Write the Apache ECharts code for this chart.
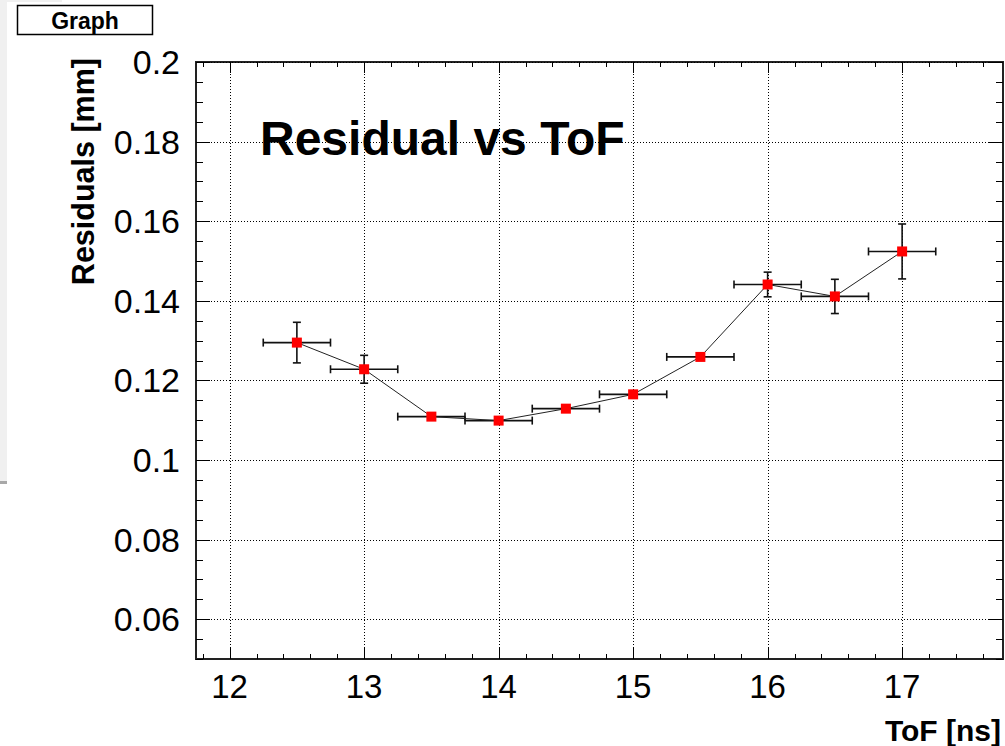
<!DOCTYPE html>
<html><head><meta charset="utf-8">
<script src="https://cdn.jsdelivr.net/npm/echarts@6/dist/echarts.min.js"></script>
<style>html,body{margin:0;padding:0;background:#fff}#c{width:1005px;height:746px}</style>
</head><body><div id="c"></div>
<script>
// ---- data ----
const tof        = [12.5, 13.0, 13.5, 14.0, 14.5, 15.0, 15.5, 16.0, 16.5, 17.0];
const residual   = [0.1295, 0.1228, 0.1109, 0.1099, 0.1129, 0.1165, 0.1259, 0.1441, 0.1411, 0.1524];
const tofErr     = [0.25, 0.25, 0.25, 0.25, 0.25, 0.25, 0.25, 0.25, 0.25, 0.25];
const residualErr= [0.0051, 0.0035, 0.0008, 0.0008, 0.0008, 0.0008, 0.0008, 0.0031, 0.0043, 0.0069];
const xMajor = [12, 13, 14, 15, 16, 17];
const yMajor = [0.06, 0.08, 0.1, 0.12, 0.14, 0.16, 0.18, 0.2];
const xMinorStep = 0.2, yMinorStep = 0.005;
const X_MIN = 11.75, X_MAX = 17.75, Y_MIN = 0.05, Y_MAX = 0.2;

function steps(lo, hi, step){
  const out = [];
  const n0 = Math.ceil(lo/step - 1e-9), n1 = Math.floor(hi/step + 1e-9);
  for (let k = n0; k <= n1; k++) out.push(+(k*step).toFixed(6));
  return out;
}
const isMajor = (arr, v) => arr.some(m => Math.abs(m - v) < 1e-9);
const xMinor = steps(X_MIN, X_MAX, xMinorStep).filter(v => !isMajor(xMajor, v));
const yMinor = steps(Y_MIN, Y_MAX, yMinorStep).filter(v => !isMajor(yMajor, v));

const FONT = "'Liberation Sans', Arial, Helvetica, sans-serif";
const chart = echarts.init(document.getElementById('c'), null, {renderer: 'svg'});

function crisp(v){ return Math.round(v) + 0.5; }

function renderGrid(params, api){
  const cs = params.coordSys;
  const left = cs.x, right = cs.x + cs.width, top = cs.y, bottom = cs.y + cs.height;
  const children = [];
  const dash = {stroke: '#000', lineWidth: 1, lineDash: [1, 2]};
  const solid = {stroke: '#000', lineWidth: 1};
  xMajor.forEach(v => {
    const px = crisp(api.coord([v, Y_MIN])[0]);
    children.push({type: 'line', shape: {x1: px, y1: top, x2: px, y2: bottom}, style: dash});
    children.push({type: 'line', shape: {x1: px, y1: bottom, x2: px, y2: bottom - 11}, style: solid});
    children.push({type: 'line', shape: {x1: px, y1: top, x2: px, y2: top + 11}, style: solid});
  });
  xMinor.forEach(v => {
    const px = crisp(api.coord([v, Y_MIN])[0]);
    children.push({type: 'line', shape: {x1: px, y1: bottom, x2: px, y2: bottom - 5}, style: solid});
    children.push({type: 'line', shape: {x1: px, y1: top, x2: px, y2: top + 5}, style: solid});
  });
  yMajor.forEach(v => {
    const py = crisp(api.coord([X_MIN, v])[1]);
    children.push({type: 'line', shape: {x1: left, y1: py, x2: right, y2: py}, style: dash});
    children.push({type: 'line', shape: {x1: left, y1: py, x2: left + 14, y2: py}, style: solid});
    children.push({type: 'line', shape: {x1: right, y1: py, x2: right - 14, y2: py}, style: solid});
  });
  yMinor.forEach(v => {
    const py = crisp(api.coord([X_MIN, v])[1]);
    children.push({type: 'line', shape: {x1: left, y1: py, x2: left + 7, y2: py}, style: solid});
    children.push({type: 'line', shape: {x1: right, y1: py, x2: right - 7, y2: py}, style: solid});
  });
  return {type: 'group', children};
}

function renderErr(params, api){
  const x = api.value(0), y = api.value(1), ex = api.value(2), ey = api.value(3);
  const pL = api.coord([x - ex, y]), pR = api.coord([x + ex, y]);
  const pB = api.coord([x, y - ey]), pT = api.coord([x, y + ey]);
  const c = 4;
  const st = {stroke: '#111', lineWidth: 1.6};
  return {type: 'group', children: [
    {type: 'line', shape: {x1: pL[0], y1: pL[1], x2: pR[0], y2: pR[1]}, style: st},
    {type: 'line', shape: {x1: pL[0], y1: pL[1] - c, x2: pL[0], y2: pL[1] + c}, style: st},
    {type: 'line', shape: {x1: pR[0], y1: pR[1] - c, x2: pR[0], y2: pR[1] + c}, style: st},
    {type: 'line', shape: {x1: pB[0], y1: pB[1], x2: pT[0], y2: pT[1]}, style: st},
    {type: 'line', shape: {x1: pB[0] - c, y1: pB[1], x2: pB[0] + c, y2: pB[1]}, style: st},
    {type: 'line', shape: {x1: pT[0] - c, y1: pT[1], x2: pT[0] + c, y2: pT[1]}, style: st}
  ]};
}

const points = tof.map((x, i) => [x, residual[i]]);
const errData = tof.map((x, i) => [x, residual[i], tofErr[i], residualErr[i]]);

chart.setOption({
  animation: false,
  backgroundColor: '#fff',
  grid: {left: 196, right: 2, top: 62, bottom: 87, show: true, borderColor: '#222', borderWidth: 2, backgroundColor: 'transparent'},
  xAxis: {
    type: 'value', min: X_MIN, max: X_MAX, interval: 0.25,
    axisLine: {show: false}, axisTick: {show: false}, splitLine: {show: false},
    axisLabel: {
      margin: 11, color: '#000', fontFamily: FONT, fontSize: 33,
      showMinLabel: false, showMaxLabel: false,
      formatter: v => {
        const r = Math.round(v);
        return (Math.abs(v - r) < 1e-6 && xMajor.includes(r)) ? String(r) : '';
      }
    }
  },
  yAxis: {
    type: 'value', min: Y_MIN, max: Y_MAX, interval: 0.01,
    axisLine: {show: false}, axisTick: {show: false}, splitLine: {show: false},
    axisLabel: {
      margin: 16, color: '#000', fontFamily: FONT, fontSize: 34,
      formatter: v => {
        const r = Math.round(v * 100) / 100;
        return isMajor(yMajor, r) ? String(r) : '';
      }
    }
  },
  graphic: [
    {type: 'rect', shape: {x: 0, y: 0, width: 7, height: 481}, style: {fill: '#f0f0f0'}, silent: true},
    {type: 'rect', shape: {x: 0, y: 481, width: 7, height: 3}, style: {fill: '#a8a8a8'}, silent: true},
    {type: 'rect', shape: {x: 7, y: 0, width: 55, height: 2}, style: {fill: '#f0f0f0'}, silent: true},
    {type: 'rect', shape: {x: 17.5, y: 5.5, width: 135, height: 29}, style: {fill: '#fff', stroke: '#000', lineWidth: 1.5}},
    {type: 'text', x: 85, y: 20.5, style: {text: 'Graph', font: "bold 23px " + FONT, fill: '#000', align: 'center', verticalAlign: 'middle'}},
    {type: 'text', x: 260, y: 138, style: {text: 'Residual vs ToF', font: "bold 48px " + FONT, fill: '#000', align: 'left', verticalAlign: 'middle'}},
    {type: 'text', x: 83, y: 58, rotation: Math.PI / 2, style: {text: 'Residuals [mm]', font: "bold 30.5px " + FONT, fill: '#000', align: 'right', verticalAlign: 'middle'}},
    {type: 'text', x: 1001, y: 730, style: {text: 'ToF [ns]', font: "bold 30px " + FONT, fill: '#000', align: 'right', verticalAlign: 'middle'}}
  ],
  series: [
    {type: 'custom', name: 'frame', renderItem: renderGrid, data: [[12.5, 0.1]], z: 1, silent: true, clip: false},
    {type: 'custom', name: 'errors', renderItem: renderErr, data: errData, z: 3, silent: true,
     encode: {x: 0, y: 1}},
    {type: 'line', name: 'Residual', data: points, z: 5, symbol: 'rect', symbolSize: 10, showSymbol: true,
     itemStyle: {color: '#ff0000'}, lineStyle: {color: '#222', width: 1}}
  ]
});
</script>
</body></html>
